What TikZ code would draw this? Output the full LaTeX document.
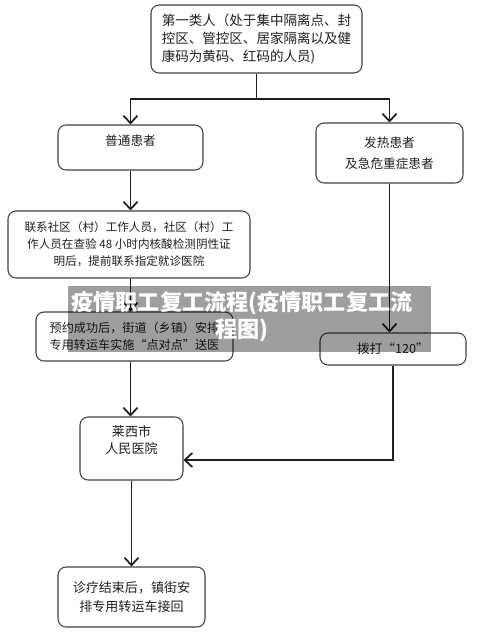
\documentclass[tikz,border=0pt]{standalone}
\usepackage{fontspec}
\setmainfont{Noto Sans CJK SC}
\usetikzlibrary{arrows.meta}

\definecolor{inkgray}{HTML}{1E1E1E}
\tikzset{
  box/.style={draw=inkgray!85, rounded corners=0.16cm, line width=0.6pt,
    align=center, inner sep=2pt, text=inkgray},
  link/.style={line width=1pt, draw=inkgray},
  arr/.style={link, -{Straight Barb[length=1.5mm,width=2.8mm]}},
}

\begin{document}
\begin{tikzpicture}[x=0.02cm, y=-0.02cm]
  \useasboundingbox (0,0) rectangle (500,639);

  % boxes
  \node[box, minimum width=4.22cm, minimum height=1.36cm, align=left,
        font=\fontsize{7.7}{10.4}\selectfont] (first) at (256.5,39)
        {第一类人（处于集中隔离点、封\\控区、管控区、居家隔离以及健\\康码为黄码、红码的人员)};
  \node[box, minimum width=2.9cm, minimum height=0.9cm, text depth=0.29cm,
        font=\fontsize{7.2}{10}\selectfont] (normal) at (130.5,147.5) {普通患者};
  \node[box, minimum width=2.94cm, minimum height=1.2cm,
        font=\fontsize{7.2}{12}\selectfont] (fever) at (389.5,153)
        {发热患者\\及急危重症患者};
  \node[box, minimum width=4.84cm, minimum height=1.34cm,
        font=\fontsize{6.6}{9.7}\selectfont] (contact) at (129,244.5)
        {联系社区（村）工作人员，社区（村）工\\作人员在查验 48 小时内核酸检测阴性证\\明后，提前联系指定就诊医院};
  \node[box, minimum width=3.94cm, minimum height=0.98cm, align=left,
        font=\fontsize{6.9}{9.7}\selectfont] (booking) at (134.5,336.5)
        {预约成功后，街道（乡镇）安排\\专用转运车实施“点对点”送医};
  \node[box, minimum width=2.92cm, minimum height=0.64cm,
        font=\fontsize{7.2}{10}\selectfont] (dial) at (393,349) {拨打“120”};
  \node[box, minimum width=2.06cm, minimum height=1.26cm, text depth=0.36cm,
        font=\fontsize{7.4}{9.7}\selectfont] (hospital) at (131.5,448.5)
        {莱西市\\人民医院};
  \node[box, minimum width=2.94cm, minimum height=1.2cm,
        font=\fontsize{7.4}{10.8}\selectfont] (pickup) at (131.5,597)
        {诊疗结束后，镇街安\\排专用转运车接回};

  % connectors
  \coordinate (split) at (256.5,99);
  \draw[link] (first.south) -- (split);
  \draw[arr] (split) -| (normal.north);
  \draw[arr] (split) -| (fever.north);
  \draw[arr] (normal.south) -- (normal.south |- contact.north);
  \draw[arr] (contact.south -| normal.south) -- (normal.south |- booking.north);
  \draw[arr] (booking.south -| normal.south) -- (normal.south |- hospital.north);
  \draw[arr] (fever.south) -- (fever.south |- dial.north);
  \draw[arr] (dial.south) |- ([yshift=-0.23cm]hospital.east);
  \draw[arr] (hospital.south) -- (pickup.north);

  % overlay band
  \node[fill=black, fill opacity=0.38, minimum width=7.26cm, minimum height=1.32cm,
        inner sep=0pt] (band) at (249.5,319) {};
  \node[text=white, align=center, font=\fontsize{12.6}{15.4}\selectfont\bfseries]
        (bandtext) at (242,316.5) {疫情职工复工流程(疫情职工复工流\\程图)};
\end{tikzpicture}
\end{document}
